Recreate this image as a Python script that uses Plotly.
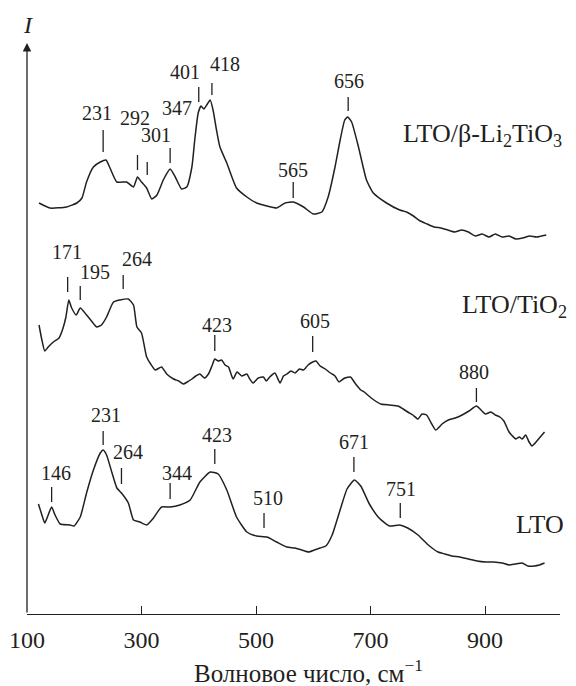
import plotly.graph_objects as go

# ---------------- data (wavenumber, cm^-1 ; intensity, a.u.) ----------------
beta_x = [121, 140, 169, 187, 196, 204, 216, 228, 238, 245, 257, 274, 286, 293, 300, 309, 318, 327,
          338, 350, 359, 370, 379, 388, 393, 399, 404, 409, 414, 420, 425, 431, 437, 449, 466, 484,
          501, 519, 536, 551, 565, 583, 600, 615, 626, 638, 647, 655, 660, 667, 679, 693, 705, 728,
          751, 763, 775, 787, 799, 811, 823, 835, 847, 859, 871, 883, 895, 907, 918, 930, 942, 954,
          966, 978, 990, 1007]
beta_y = [411, 406, 407, 411, 416, 432, 447, 452, 454, 446, 432, 432, 427, 437, 432, 426, 415, 419,
          434, 445, 437, 425, 427, 447, 474, 501, 508, 505, 509, 514, 504, 484, 467, 451, 426, 417,
          411, 408, 406, 411, 412, 407, 400, 402, 417, 447, 474, 494, 497, 492, 467, 434, 421, 411,
          404, 402, 398, 393, 390, 387, 386, 384, 382, 384, 382, 378, 380, 377, 380, 377, 378, 375,
          376, 378, 377, 379]

tio2_x = [121, 126, 131, 137, 146, 156, 163, 168, 173, 178, 186, 193, 204, 214, 222, 230, 239, 251,
          262, 277, 286, 292, 300, 309, 316, 324, 335, 344, 356, 365, 373, 380, 388, 395, 402, 410,
          417, 423, 428, 434, 440, 446, 452, 460, 467, 475, 484, 489, 495, 504, 513, 518, 524, 533,
          542, 548, 554, 561, 568, 576, 583, 591, 599, 605, 612, 621, 630, 638, 645, 655, 665, 674,
          683, 689, 695, 706, 718, 733, 748, 757, 765, 774, 783, 790, 798, 806, 814, 825, 836, 848,
          860, 872, 885, 893, 901, 910, 918, 926, 933, 942, 948, 954, 960, 965, 971, 977, 982, 986,
          995, 1004]
tio2_y = [289, 274, 263, 267, 272, 276, 286, 297, 314, 306, 299, 306, 299, 292, 287, 289, 297, 312,
          314, 315, 309, 287, 281, 257, 250, 244, 247, 240, 235, 233, 230, 232, 235, 238, 240, 236,
          240, 248, 255, 253, 254, 249, 247, 235, 242, 238, 240, 235, 231, 236, 237, 233, 237, 241,
          231, 238, 240, 243, 241, 245, 244, 249, 252, 253, 248, 245, 241, 238, 232, 236, 237, 230,
          224, 222, 219, 214, 210, 209, 208, 205, 202, 199, 195, 200, 199, 191, 184, 190, 194, 196,
          199, 203, 208, 204, 200, 202, 199, 197, 193, 182, 178, 175, 177, 175, 179, 172, 168, 170,
          176, 182]

lto_x = [120, 126, 131, 137, 143, 149, 158, 175, 182, 193, 204, 216, 228, 233, 239, 248, 257, 265,
         277, 286, 297, 309, 321, 335, 350, 367, 385, 402, 420, 434, 449, 466, 484, 501, 519, 536,
         554, 568, 580, 592, 602, 612, 622, 633, 648, 659, 672, 683, 698, 715, 733, 751, 765, 783,
         801, 818, 830, 842, 856, 871, 886, 901, 915, 930, 942, 953, 965, 975, 986, 995, 1004]
lto_y = [110, 99, 91, 99, 107, 99, 90, 89, 88, 97, 121, 144, 161, 164, 159, 142, 126, 121,
         111, 94, 92, 89, 96, 107, 107, 109, 114, 132, 142, 140, 124, 97, 82, 78, 77, 72,
         67, 66, 64, 62, 64, 66, 68, 79, 106, 125, 134, 128, 110, 96, 88, 89, 86, 79,
         69, 62, 60, 58, 57, 55, 53, 52, 52, 51, 49, 50, 51, 48, 48, 49, 51]

series_names = ["LTO/β-Li<sub>2</sub>TiO<sub>3</sub>", "LTO/TiO<sub>2</sub>", "LTO"]
series_label_y = [479, 308, 90]
series_label_xpaper = [0.702, 0.812, 0.914]

# peak marks: label text, tick x, tick bottom, tick top, label x, label y
peak_text = ["231", "292", "301", "347", "401", "418", "565", "656",
             "171", "195", "264", "423", "605", "880",
             "146", "231", "264", "344", "423", "510", "671", "751"]
peak_tick_x = [233, 293, 310, 350, 400, 423, 565, 661,
               171, 193, 268, 428, 599, 885,
               143, 233, 265, 350, 428, 514, 671, 752]
peak_tick_y0 = [462, 444, 439, 451, 512, 519, 416, 503,
                322, 314, 325, 263, 262, 212,
                112, 169, 130, 115, 150, 86, 142, 96]
peak_tick_y1 = [484, 459, 452, 466, 527, 531, 432, 517,
                337, 328, 339, 279, 278, 226,
                127, 183, 146, 131, 165, 101, 157, 111]
peak_label_x = [222, 289, 325, 362, 376, 445, 565, 662,
                169, 219, 293, 431, 603, 881,
                151, 238, 277, 362, 431, 521, 671, 753]
peak_label_y = [501, 496, 479, 506, 542, 550, 444, 533,
                362, 342, 355, 289, 293, 242,
                141, 199, 162, 141, 179, 116, 172, 125]

x_ticks = [100, 300, 500, 700, 900]

# ---------------- figure ----------------
INK = "#231f20"
FONT = "Liberation Serif"

fig = go.Figure()
for xs, ys in [(beta_x, beta_y), (tio2_x, tio2_y), (lto_x, lto_y)]:
    fig.add_trace(go.Scatter(x=xs, y=ys, mode="lines",
                             line=dict(color=INK, width=1.5, shape="spline", smoothing=0.5),
                             showlegend=False, hoverinfo="skip"))

shapes = []
for x, y0, y1 in zip(peak_tick_x, peak_tick_y0, peak_tick_y1):
    shapes.append(dict(type="line", xref="x", yref="y", x0=x, x1=x, y0=y0, y1=y1,
                       line=dict(color=INK, width=1.3)))

annotations = []
for t, x, y in zip(peak_text, peak_label_x, peak_label_y):
    annotations.append(dict(x=x, y=y, xref="x", yref="y", text=t, showarrow=False,
                            xanchor="center", yanchor="middle",
                            font=dict(family=FONT, size=20, color=INK)))
for name, xp, y in zip(series_names, series_label_xpaper, series_label_y):
    annotations.append(dict(x=xp, y=y, xref="paper", yref="y", text=name, showarrow=False,
                            xanchor="left", yanchor="middle",
                            font=dict(family=FONT, size=26, color=INK)))

# y axis with arrow
annotations.append(dict(x=100, y=571, xref="x", yref="y", ax=100, ay=0, axref="x", ayref="y",
                        text="", showarrow=True, arrowhead=2, arrowsize=1.3, arrowwidth=1.3,
                        arrowcolor=INK))
annotations.append(dict(x=0.002, y=1, xref="paper", yref="paper", yshift=18, text="<i>I</i>",
                        showarrow=False, xanchor="center", yanchor="middle",
                        font=dict(family=FONT, size=24, color=INK)))
annotations.append(dict(x=0.529, y=0, xref="paper", yref="paper", yshift=-57,
                        text="Волновое число, см<sup>−1</sup>", showarrow=False,
                        xanchor="center", yanchor="middle",
                        font=dict(family=FONT, size=25, color=INK)))

fig.update_layout(
    width=576, height=686,
    margin=dict(l=27, r=16, t=43, b=72, autoexpand=False),
    paper_bgcolor="white", plot_bgcolor="white",
    font=dict(family=FONT, color=INK),
    shapes=shapes, annotations=annotations,
    xaxis=dict(range=[100, 1031], tickvals=x_ticks, ticktext=[str(v) for v in x_ticks],
               ticks="inside", ticklen=8, tickwidth=1.3, tickcolor=INK, automargin=False,
               showline=True, linecolor=INK, linewidth=1.3, showgrid=False, zeroline=False,
               tickfont=dict(family=FONT, size=24, color=INK), ticklabelstandoff=4),
    yaxis=dict(range=[0, 571], showticklabels=False, ticks="", showgrid=False, automargin=False,
               zeroline=False, showline=False),
)

fig.write_html("out.html", config={"displayModeBar": False},
               post_script="document.body.style.margin='0';document.body.style.overflow='hidden';")
